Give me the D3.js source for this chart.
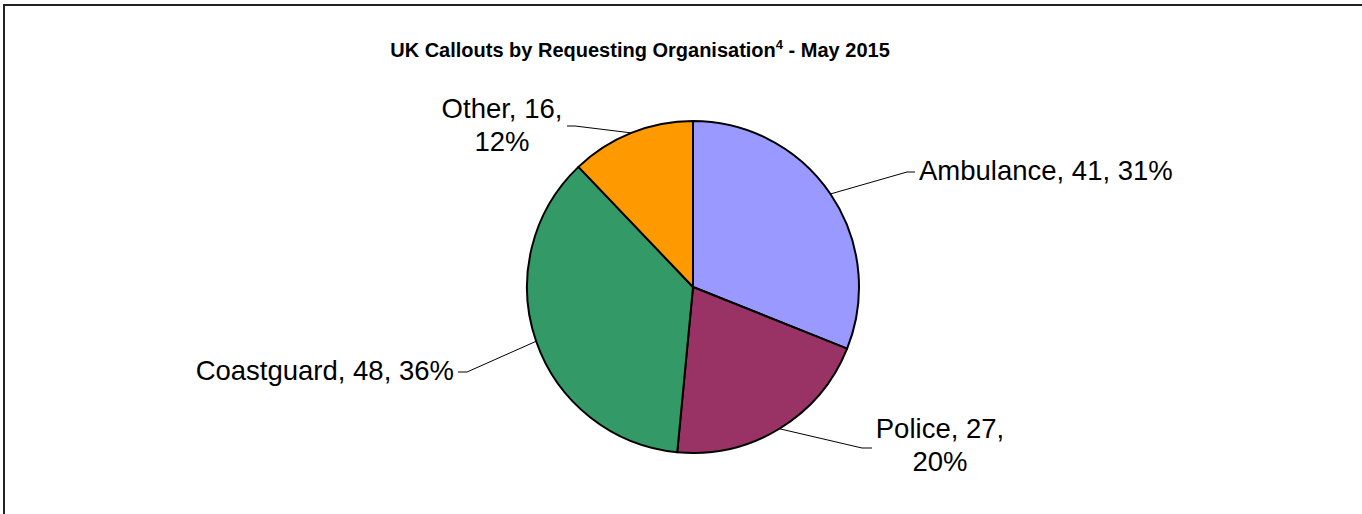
<html>
<head>
  <meta charset="UTF-8">
  <title>UK Callouts by Requesting Organisation</title>
  <script src="https://d3js.org/d3.v7.min.js"></script>
</head>
<style>
body { margin: 0; background: #fff; }
text { font-family: "Liberation Sans", Arial, sans-serif; fill: #000; }
.leader { fill: none; stroke: #000; stroke-width: 1; }
</style>
<body>
<script>

// data
var categories = ['Ambulance', 'Police', 'Coastguard', 'Other'];
var callouts = [41, 27, 48, 16];
var colours = ['#9999ff', '#993366', '#339966', '#ff9900'];

var width = 1362,
    height = 514;

// layout for the labels: elbow of the leader line, text anchor, lines of text
var labelLayout = {
  'Ambulance':  { elbow: [907, 172], end: [915, 172], x: 919, y: 172, anchor: 'start', wrap: false },
  'Police':     { elbow: [862, 448], end: [872, 448], x: 940, y: 430, anchor: 'middle', wrap: true },
  'Coastguard': { elbow: [467, 372], end: [458, 372], x: 454, y: 372, anchor: 'end', wrap: false },
  'Other':      { elbow: [575, 126], end: [567, 126], x: 502, y: 110, anchor: 'middle', wrap: true }
};

var svg = d3.select('body')
  .append('svg')
  .attr('width', width)
  .attr('height', height);

// chart area border (runs off the right and bottom of the shot)
svg.append('rect')
  .attr('x', 4)
  .attr('y', 5)
  .attr('width', width + 20)
  .attr('height', height + 20)
  .attr('fill', '#fff')
  .attr('stroke', '#222')
  .attr('stroke-width', 2);

var title = svg.append('text')
  .attr('x', 640)
  .attr('y', 57)
  .attr('text-anchor', 'middle')
  .attr('font-size', 20)
  .attr('font-weight', 'bold');
title.append('tspan').text('UK Callouts by Requesting Organisation');
title.append('tspan').attr('font-size', 13).attr('dy', -8).text('4');
title.append('tspan').attr('dy', 8).text(' - May 2015');

var cx = 693, cy = 287, r = 166;

var data = categories.map(function(c, i) {
  return { name: c, value: callouts[i], colour: colours[i] };
});
var total = d3.sum(callouts);

var pie = d3.pie()
  .sort(null)
  .value(function(d) { return d.value; });

var arc = d3.arc()
  .innerRadius(0)
  .outerRadius(r);

var g = svg.append('g')
  .attr('transform', 'translate(' + cx + ',' + cy + ')');

var arcs = pie(data);

g.selectAll('path')
  .data(arcs)
  .enter()
  .append('path')
  .attr('d', arc)
  .attr('fill', function(d) { return d.data.colour; })
  .attr('stroke', '#000')
  .attr('stroke-width', 2)
  .attr('stroke-linejoin', 'round');

// leader lines and labels
arcs.forEach(function(a) {
  var lay = labelLayout[a.data.name];
  var mid = (a.startAngle + a.endAngle) / 2;
  var px = cx + r * Math.sin(mid),
      py = cy - r * Math.cos(mid);

  svg.append('polyline')
    .attr('class', 'leader')
    .attr('points', [[px, py], lay.elbow, lay.end].map(function(p) { return p.join(','); }).join(' '));

  var pct = Math.round(a.data.value / total * 100) + '%';
  var lines = lay.wrap
    ? [a.data.name + ', ' + a.data.value + ',', pct]
    : [a.data.name + ', ' + a.data.value + ', ' + pct];

  var t = svg.append('text')
    .attr('x', lay.x)
    .attr('y', lay.y)
    .attr('text-anchor', lay.anchor)
    .attr('font-size', 27.5);
  lines.forEach(function(l, i) {
    t.append('tspan')
      .attr('x', lay.x)
      .attr('dy', i === 0 ? '0.3em' : 33)
      .text(l);
  });
});

</script>
</body>
</html>
